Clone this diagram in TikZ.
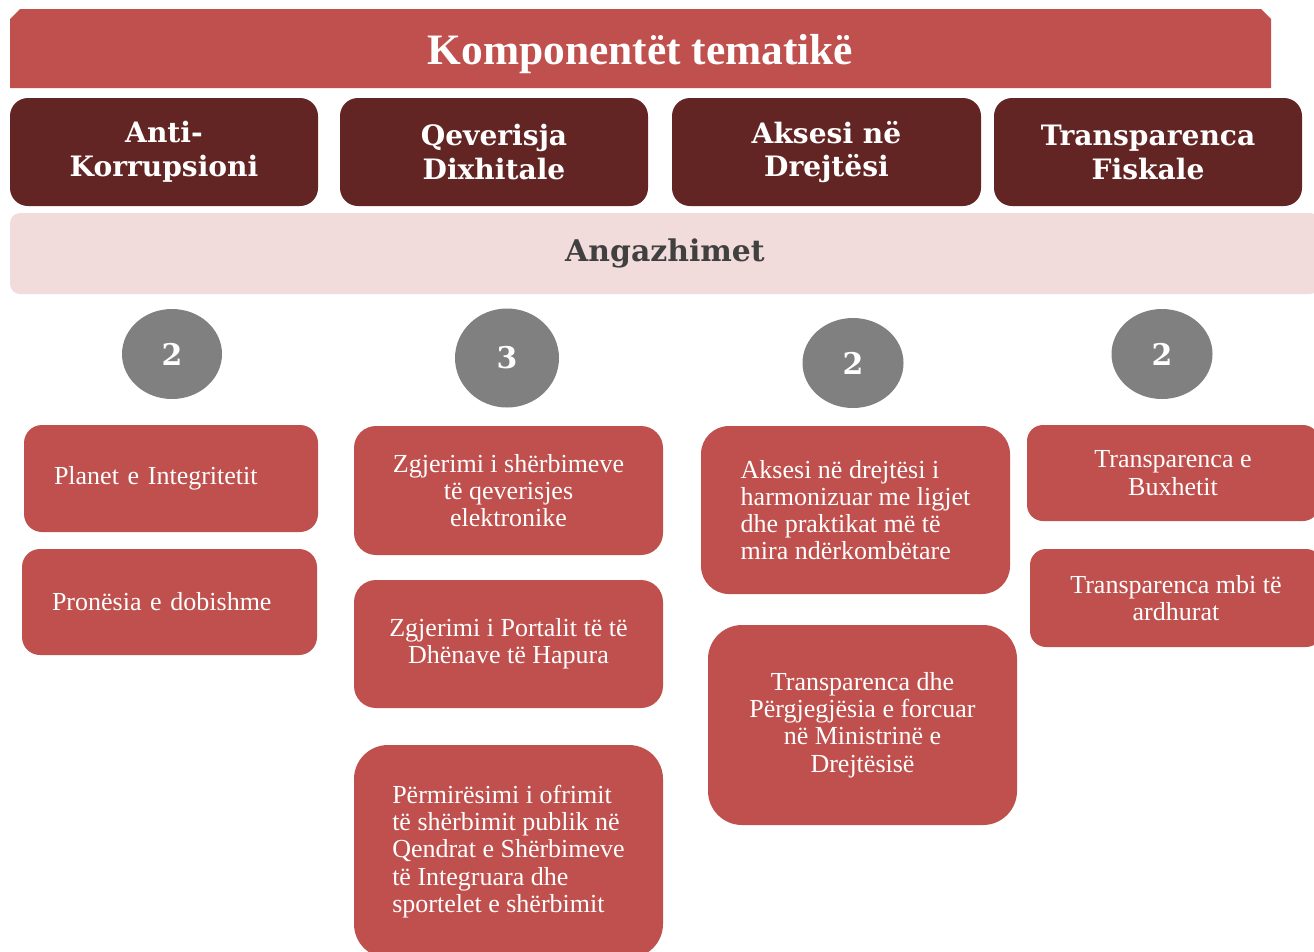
\documentclass[tikz,border=0pt]{standalone}
\usepackage{fontspec}
\setmainfont{Liberation Serif}
\newfontfamily\headfont{DejaVu Serif}
\usetikzlibrary{shapes.geometric, positioning}

\definecolor{titlered}{HTML}{C0504D}
\definecolor{topicred}{HTML}{632523}
\definecolor{bandpink}{HTML}{F2DCDB}
\definecolor{countgray}{HTML}{808080}
\definecolor{bandtext}{HTML}{404040}

\tikzset{
  sz/.style 2 args={minimum width=#1*0.02cm, minimum height=#2*0.02cm},
  topic/.style={fill=topicred, rounded corners=18*0.02cm, text=white, inner sep=0pt,
    align=center, font=\headfont\bfseries\fontsize{16}{19.3}\selectfont},
  item/.style={fill=titlered, rounded corners=#1*0.02cm, text=white, inner sep=0pt,
    align=center, font=\fontsize{14.8}{15.5}\selectfont},
  item/.default=20,
  count/.style={ellipse, fill=countgray, text=white, inner sep=0pt,
    font=\headfont\bfseries\fontsize{17}{20}\selectfont},
}

\begin{document}
\begin{tikzpicture}[x=0.02cm, y=-0.02cm]
\useasboundingbox (0,0) rectangle (1314,951);
\clip (0,0) rectangle (1314,951);

% Title bar
\fill[titlered] (10,88) -- (10,19) -- (20,9) -- (1261,9) -- (1271,19) -- (1271,88) -- cycle;
\node[text=white, font=\bfseries\fontsize{24.7}{28}\selectfont]
  (title) at (640.5,54) {Komponentët tematikë};

% Thematic components
\node[topic, sz={308}{108}] (anti) at (164,152) {Anti-\\Korrupsioni};
\node[topic, sz={308}{108}] (qev) at (494,152) {Qeverisja\\Dixhitale};
\node[topic, sz={309}{108}] (aks) at (826.5,152) {Aksesi në\\Drejtësi};
\node[topic, sz={308}{108}] (fisk) at (1148,152) {Transparenca\\Fiskale};

% Commitments band
\node[fill=bandpink, rounded corners=10*0.02cm, sz={1310}{81}, inner sep=0pt, text=bandtext,
  font=\headfont\bfseries\fontsize{17}{20}\selectfont] (band) at (665,253.5) {Angazhimet};

% Counts
\node[count, sz={100}{90}] (n1) at (172,354) {\raisebox{-3pt}{2}};
\node[count, sz={104}{99}] (n2) at (507,358) {\raisebox{-3pt}{3}};
\node[count, sz={101}{90}] (n3) at (853,363) {\raisebox{-3pt}{2}};
\node[count, sz={101}{90}] (n4) at (1162,354) {\raisebox{-3pt}{2}};

% Column 1
\node[item=18, sz={294}{107}, align=left, text width=234*0.02cm, inner xsep=30*0.02cm]
  (integ) at (171,478.5) {Planet e Integritetit};
\node[item=18, sz={295}{106}, align=left, text width=235*0.02cm, inner xsep=30*0.02cm]
  (pron) at (169.5,602) {Pronësia e dobishme};

% Column 2
\node[item=22, sz={309}{129}] (egov) at (508.5,490.5) {Zgjerimi i shërbimeve\\të qeverisjes\\elektronike};
\node[item=22, sz={309}{128}] (portal) at (508.5,644) {Zgjerimi i Portalit të të\\Dhënave të Hapura};
\node[item=34, sz={309}{213}, align=left] (qendrat) at (508.5,851.5)
  {Përmirësimi i ofrimit\\të shërbimit publik në\\Qendrat e Shërbimeve\\të Integruara dhe\\sportelet e shërbimit};

% Column 3
\node[item=28, sz={309}{168}, align=left] (ligjet) at (855.5,510)
  {Aksesi në drejtësi i\\harmonizuar me ligjet\\dhe praktikat më të\\mira ndërkombëtare};
\node[item=34, sz={309}{200}] (minis) at (862.5,725)
  {Transparenca dhe\\Përgjegjësia e forcuar\\në Ministrinë e\\Drejtësisë};

% Column 4
\node[item=16, sz={292}{96}] (buxh) at (1173,473) {Transparenca e\\Buxhetit};
\node[item=16, sz={292}{98}] (ardh) at (1176,598) {Transparenca mbi të\\ardhurat};
\end{tikzpicture}
\end{document}
